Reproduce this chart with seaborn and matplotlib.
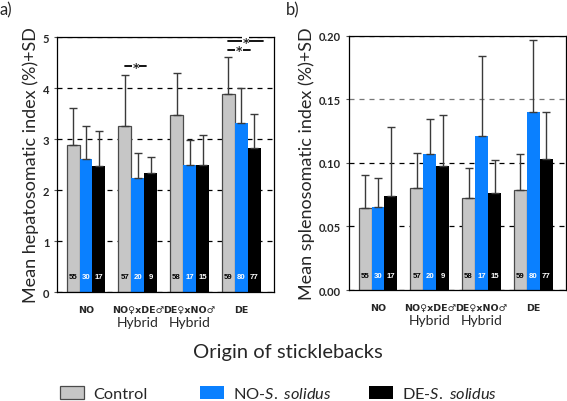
import numpy as np
import pandas as pd
import matplotlib
matplotlib.use("Agg")
import matplotlib.pyplot as plt
import seaborn as sns
from matplotlib.patches import Patch

# data
groups = ["NO", "NO\u2640xDE\u2642", "DE\u2640xNO\u2642", "DE"]
series = ["Control", "NO-S. solidus", "DE-S. solidus"]
colors = ["#c6c6c6", "#0a80ff", "#000000"]

hsi_mean = {"Control": [2.88, 3.25, 3.48, 3.89],
            "NO-S. solidus": [2.60, 2.24, 2.50, 3.31],
            "DE-S. solidus": [2.47, 2.33, 2.50, 2.82]}
hsi_sd = {"Control": [0.73, 1.00, 0.81, 0.72],
          "NO-S. solidus": [0.66, 0.49, 0.48, 0.70],
          "DE-S. solidus": [0.69, 0.32, 0.58, 0.67]}

ssi_mean = {"Control": [0.0646, 0.0806, 0.0724, 0.0790],
            "NO-S. solidus": [0.0650, 0.1070, 0.1210, 0.1400],
            "DE-S. solidus": [0.0743, 0.0980, 0.0766, 0.1030]}
ssi_sd = {"Control": [0.0260, 0.0275, 0.0236, 0.0280],
          "NO-S. solidus": [0.0230, 0.0280, 0.0630, 0.0570],
          "DE-S. solidus": [0.0537, 0.0400, 0.0260, 0.0370]}

n_fish = {"Control": [55, 57, 58, 59],
          "NO-S. solidus": [30, 20, 17, 80],
          "DE-S. solidus": [17, 9, 15, 77]}

# significance bars on panel a: (group, from series, to series, y)
sig_a = [(1, 0, 1, 4.43), (3, 0, 1, 4.75), (3, 0, 2, 4.92)]

TXT = ["Lato", "DejaVu Sans"]
NUM = ["Liberation Sans", "DejaVu Sans"]

sns.set_style("white")
plt.rcParams["font.family"] = TXT
plt.rcParams["mathtext.fontset"] = "custom"
plt.rcParams["mathtext.it"] = "Lato:italic"
plt.rcParams["mathtext.rm"] = "Lato"


def long_table(means, sds):
    rows = []
    for s in series:
        for i, g in enumerate(groups):
            rows.append({"group": g, "series": s, "mean": means[s][i],
                         "sd": sds[s][i], "n": n_fish[s][i]})
    return pd.DataFrame(rows)


def draw_panel(ax, means, sds, ylim, yticks, ylabel, fmt, nlab_y):
    df = long_table(means, sds)
    sns.barplot(data=df, x="group", y="mean", hue="series", order=groups,
                hue_order=series, palette=colors, errorbar=None, width=0.75,
                saturation=1, legend=False, ax=ax, zorder=2)
    bars = list(ax.containers)
    for k, cont in enumerate(bars):
        s = series[k]
        for i, bar in enumerate(cont):
            if k == 0:
                bar.set_edgecolor("#4a4a4a")
                bar.set_linewidth(0.9)
            else:
                bar.set_linewidth(0)
            xc = bar.get_x() + bar.get_width() / 2
            ax.errorbar(xc, means[s][i], yerr=[[0], [sds[s][i]]], fmt="none",
                        ecolor="#3a3a3a", elinewidth=1.0, capsize=2.8,
                        capthick=1.0, zorder=3)
            ax.text(xc, nlab_y, str(n_fish[s][i]), ha="center", va="center",
                    fontsize=5.6, fontweight="bold", family=NUM,
                    color="black" if k == 0 else "white", zorder=4)
    ax.set_xlim(-0.56, 3.63)
    ax.set_ylim(*ylim)
    ax.set_yticks(yticks)
    ax.set_yticklabels([fmt.format(v) for v in yticks], fontsize=8,
                       fontweight="bold")
    ax.tick_params(axis="y", length=2.5, width=0.8, color="#555555", pad=3,
                   left=True)
    ax.tick_params(axis="x", length=0, pad=9)
    ax.set_xticks(range(len(groups)))
    ax.set_xticklabels(groups, fontsize=6.8, fontweight="bold",
                       family=["DejaVu Sans"])
    for i in (1, 2):
        ax.text(i, -0.095, "Hybrid", transform=ax.get_xaxis_transform(),
                ha="center", va="top", fontsize=10)
    ax.set_xlabel("")
    ax.set_ylabel(ylabel, fontsize=13, labelpad=3)
    ax.yaxis.grid(True, linestyle=(0, (4, 4)), color="black", linewidth=0.9)
    ax.set_axisbelow(True)
    for sp in ax.spines.values():
        sp.set_visible(True)
        sp.set_color("black")
        sp.set_linewidth(0.9)
    return bars


fig = plt.figure(figsize=(5.67, 4.02), dpi=100)
ax_a = fig.add_axes([0.1005, 0.2711, 0.3827, 0.6343])
ax_b = fig.add_axes([0.6155, 0.2761, 0.3827, 0.632])

bars_a = draw_panel(ax_a, hsi_mean, hsi_sd, (0, 5), [0, 1, 2, 3, 4, 5],
                    "Mean hepatosomatic index (%)+SD", "{:.0f}", 0.3)
draw_panel(ax_b, ssi_mean, ssi_sd, (0, 0.2), [0, 0.05, 0.10, 0.15, 0.20],
           "Mean splenosomatic index (%)+SD", "{:.2f}", 0.0118)
ax_b.get_ygridlines()[3].set_color("#777777")

# significance marks on panel a
bw = bars_a[0][0].get_width()
for g, s0, s1, y in sig_a:
    b0 = bars_a[s0][g]
    b1 = bars_a[s1][g]
    x0 = b0.get_x() + b0.get_width() / 2
    x1 = b1.get_x() + b1.get_width() / 2 + 0.65 * bw
    ax_a.plot([x0, x1], [y, y], color="black", lw=1.3, zorder=5,
              clip_on=False)
    ax_a.text((x0 + x1) / 2, y - 0.02, "*", ha="center", va="center",
              fontsize=9, fontweight="bold", family=["DejaVu Sans"], zorder=6,
              bbox=dict(facecolor="white", edgecolor="none", pad=0.4))

fig.text(0.0, 0.975, "a)", fontsize=12, va="center", ha="left")
fig.text(0.505, 0.975, "b)", fontsize=12, va="center", ha="left")
fig.text(0.507, 0.122, "Origin of sticklebacks", fontsize=14.5, ha="center",
         va="center")

# legend: one entry each so the spacing follows the reference
handles = [Patch(facecolor=colors[0], edgecolor="#4a4a4a", linewidth=0.9),
           Patch(facecolor=colors[1], edgecolor="none"),
           Patch(facecolor=colors[2], edgecolor="none")]
labels = ["Control", r"NO-$\it{S.\ solidus}$", r"DE-$\it{S.\ solidus}$"]
leg_x = [60 / 567, 200 / 567, 369 / 567]
for h, lab, lx in zip(handles, labels, leg_x):
    fig.legend([h], [lab], loc="center left", bbox_to_anchor=(lx, 0.018),
               frameon=False, fontsize=11.8, handlelength=1.45,
               handleheight=0.8, handletextpad=0.55,
               borderaxespad=0, borderpad=0)

fig.savefig("out.png", dpi=100)
